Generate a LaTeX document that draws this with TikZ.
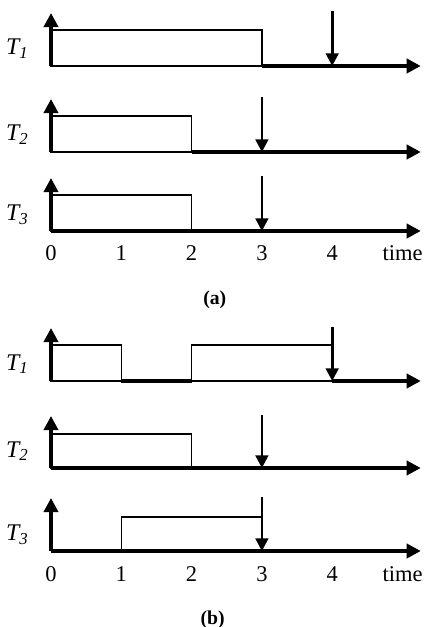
\documentclass[tikz,border=0pt]{standalone}
\usepackage{fontspec}
\setmainfont{Liberation Serif}
\usetikzlibrary{arrows.meta}

\begin{document}
\begin{tikzpicture}[x=1.7575cm, y=1cm,
  axis/.style={line width=2.5pt, -{Triangle[length=10pt, width=10pt]}},
  base/.style={line width=2.5pt},
  job/.style={draw=black, line width=1pt},
  deadline/.style={line width=1.9pt, -{Triangle[length=9pt, width=9pt]}},
  task/.style={font=\fontsize{17}{19}\selectfont\itshape},
  tick/.style={font=\fontsize{16}{18}\selectfont, anchor=base},
  caption/.style={font=\fontsize{14}{16}\selectfont\bfseries}
]
\useasboundingbox (-1.275cm,0) rectangle (9.375cm,15.675cm);

% (a) task 1
\draw[job] (0,14.025) rectangle (3,14.925);
\draw[axis] (0,14.025) -- (0,15.35);
\draw[axis] (3,14.025) -- (5.26,14.025);
\draw[deadline] (4,15.4) -- (4,14.025);
\node[task] (a1) at (-0.48,14.45) {T\textsubscript{1}};

% (a) task 2
\draw[job] (0,11.875) rectangle (2,12.775);
\draw[axis] (0,11.875) -- (0,13.2);
\draw[axis] (2,11.875) -- (5.26,11.875);
\draw[deadline] (3,13.25) -- (3,11.875);
\node[task] (a2) at (-0.48,12.3) {T\textsubscript{2}};

% (a) task 3
\draw[job] (0,9.9) rectangle (2,10.8);
\draw[axis] (0,9.9) -- (0,11.225);
\draw[axis] (0,9.9) -- (5.26,9.9);
\draw[deadline] (3,11.275) -- (3,9.9);
\node[task] (a3) at (-0.48,10.3) {T\textsubscript{3}};

\foreach \t in {0,...,4}
  \node[tick] (ta\t) at (\t,9.15) {\t};
\node[tick] (timea) at (5.0,9.15) {time};
\node[caption] (capa) at (2.33,8.175) {(a)};

% (b) task 1
\draw[job] (0,6.15) rectangle (1,7.05);
\draw[job] (2,6.15) rectangle (4,7.05);
\draw[axis] (0,6.15) -- (0,7.475);
\draw[base] (1,6.15) -- (2,6.15);
\draw[axis] (4,6.15) -- (5.26,6.15);
\draw[deadline] (4,7.5) -- (4,6.15);
\node[task] (b1) at (-0.48,6.57) {T\textsubscript{1}};

% (b) task 2
\draw[job] (0,3.975) rectangle (2,4.825);
\draw[axis] (0,3.975) -- (0,5.275);
\draw[axis] (0,3.975) -- (5.26,3.975);
\draw[deadline] (3,5.3) -- (3,3.975);
\node[task] (b2) at (-0.48,4.4) {T\textsubscript{2}};

% (b) task 3
\draw[job] (1,1.9) rectangle (3,2.75);
\draw[axis] (0,1.9) -- (0,3.225);
\draw[axis] (0,1.9) -- (5.26,1.9);
\draw[deadline] (3,3.25) -- (3,1.9);
\node[task] (b3) at (-0.48,2.3) {T\textsubscript{3}};

\foreach \t in {0,...,4}
  \node[tick] (tb\t) at (\t,1.125) {\t};
\node[tick] (timeb) at (5.0,1.125) {time};
\node[caption] (capb) at (2.3,0.175) {(b)};
\end{tikzpicture}
\end{document}
